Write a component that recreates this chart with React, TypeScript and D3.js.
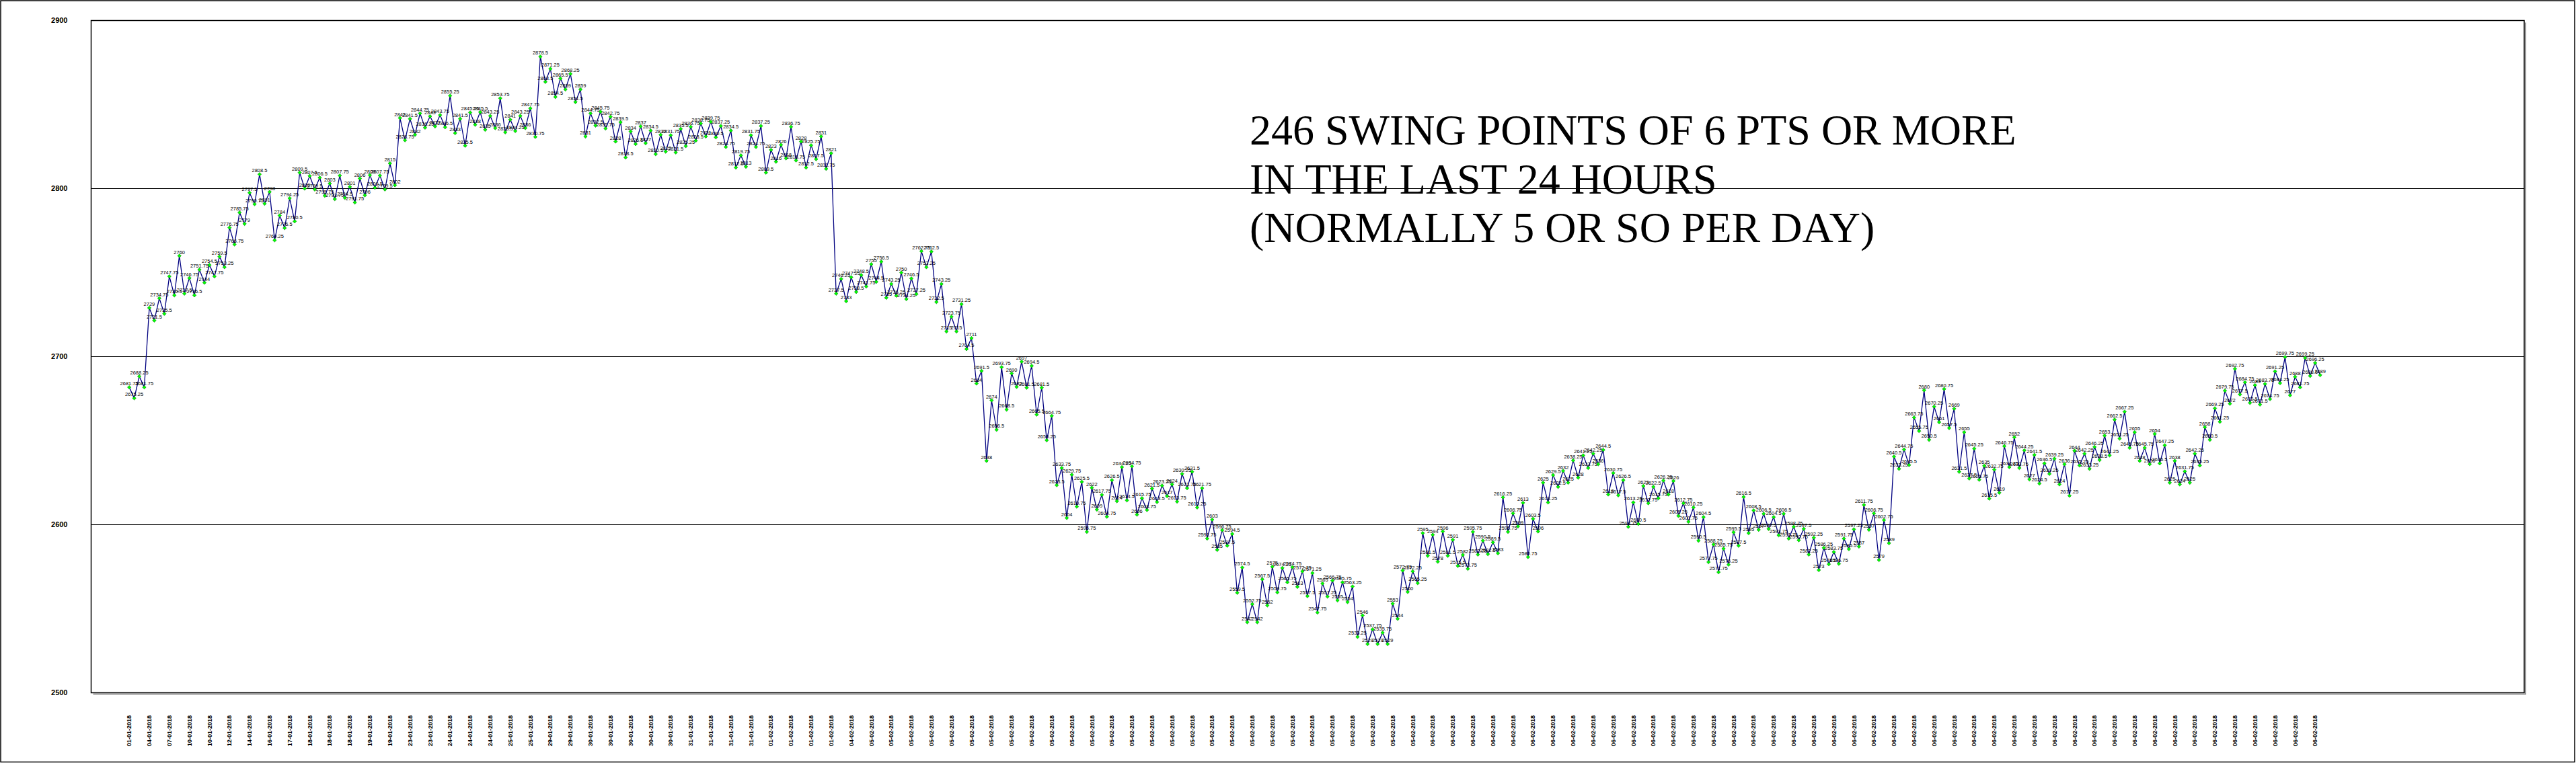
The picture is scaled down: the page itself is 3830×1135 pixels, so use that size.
import React from 'react';
import * as d3 from 'd3';

const WIDTH = 3830;
const HEIGHT = 1135;

// swing points read left to right off the chart, in blocks
const swingsEarlyJan = [
  2681.75, 2675.25, 2688.25, 2681.75, 2729, 2721.5, 2734.75, 2725.5, 2747.75, 2736.5,
  2760, 2737.5, 2746.75, 2736.5, 2751.75, 2744, 2754.5, 2747.75, 2759.5, 2753.25,
  2776.75, 2766.75, 2785.75, 2779, 2797.5, 2790.75, 2808.5, 2791, 2798, 2769.25,
  2784, 2776.5, 2794.25, 2780.5, 2809.5, 2800, 2807.5, 2799.5, 2806.5, 2795.75,
  2803, 2793.75, 2807.75, 2794.5, 2801, 2791.75, 2806, 2796, 2808, 2800.5,
  2807.75, 2799.5, 2815, 2802,
];
const swingsLateJan = [
  2842, 2828.75, 2841.5, 2832, 2844.75, 2836.25, 2843, 2837, 2843.75, 2836.5,
  2855.25, 2833, 2841.5, 2825.5, 2845.25, 2838, 2845.5, 2835, 2843.25, 2836,
  2853.75, 2833.5, 2841, 2834.25, 2843.25, 2836, 2847.75, 2830.75, 2878.5, 2863.5,
  2871.25, 2854.5, 2865.5, 2859, 2868.25, 2851.5, 2859, 2831, 2844.75, 2837.5,
  2845.75, 2835.75, 2842.75, 2828, 2839.5, 2818.5, 2834, 2826.5, 2837, 2827,
  2834.5, 2820.5, 2832, 2822, 2831.75, 2821.5, 2835.5, 2825.25, 2836.75, 2828.5,
  2838.75, 2831, 2839.75, 2830.5, 2837.25, 2824.75, 2834.5, 2812.5, 2819.75, 2813,
  2831.75, 2824.75, 2837.25, 2809.5, 2823,
];
const swingsEarlyFeb = [
  2816, 2826, 2818, 2836.75, 2816.75, 2828, 2812.5, 2825.75, 2817.5, 2831,
  2811.75, 2821, 2737.5, 2746.25, 2733, 2747.25, 2738.5, 2748.5, 2741.75, 2755,
  2744.5, 2756.5, 2735, 2743.25, 2736.25, 2750, 2734.25, 2746.5, 2737.25, 2762.75,
  2753.25, 2762.5, 2732.5, 2743.25, 2715, 2723.75, 2715, 2731.25, 2704.5, 2711,
  2684, 2691.5, 2638, 2674, 2656.5, 2693.75, 2668.5, 2690, 2682, 2697,
  2681.5, 2694.5, 2665.5, 2681.5, 2650.25,
];
const swingsFeb5 = [
  2664.75, 2623.5, 2633.75, 2604, 2629.75, 2610.75, 2625.5, 2595.75, 2622, 2609,
  2617.75, 2604.75, 2626.5, 2614, 2634.25, 2614.5, 2634.75, 2606, 2615.75, 2608.75,
  2621.5, 2613.5, 2623.25, 2617, 2624, 2613.75, 2630.25, 2621.75, 2631.5, 2610.25,
  2621.75, 2591.75, 2603, 2585, 2596.75, 2587.5, 2594.5, 2559.5, 2574.5, 2542,
  2552.75, 2542, 2567.5, 2552, 2575, 2559.75, 2574.25, 2565.75, 2574.75, 2563,
  2572.25, 2557.5, 2571.25, 2547.75, 2565, 2557.25, 2566.75, 2555, 2565.75, 2554,
  2563.25, 2533.25, 2546, 2529, 2537.75, 2529, 2535.75, 2529, 2553, 2544,
  2572.75, 2560, 2572.25, 2565.25, 2595, 2581.5, 2594, 2578, 2596, 2581.5,
  2591, 2575.5, 2582, 2573.75, 2595.75, 2582.25,
];
const swingsFeb6Night = [
  2590.5, 2582.5, 2589.5, 2583, 2616.25, 2595.75, 2606.75, 2599, 2613, 2580.75,
  2603.5, 2596, 2625, 2613.25, 2629.5, 2622.5, 2632, 2625, 2638.25, 2628,
  2641.25, 2633.75, 2642.25, 2636, 2644.5, 2618, 2630.75, 2617.5, 2626.5, 2598.75,
  2613.25, 2600.5, 2623, 2612.75, 2622.5, 2615.75, 2626.25, 2618, 2626, 2605.25,
  2612.75, 2601.75, 2610.25, 2590.5, 2604.5, 2577.75, 2588.25, 2571.75, 2585.75, 2576.25,
  2595.5, 2587.5, 2616.5, 2595, 2608.5, 2597, 2606.5, 2597.5, 2604.5, 2593.75,
  2606.5, 2591.75, 2598.75, 2590.75, 2597.5, 2582.25, 2592.25, 2573, 2586.25, 2576.5,
  2583.75, 2576.75, 2591.75, 2585.5, 2597.25, 2587, 2611.75, 2597, 2606.75, 2579,
  2602.75, 2589, 2640.5, 2633.25, 2644.75, 2635.5,
];
const swingsFeb6Day = [
  2663.75, 2655.75, 2680, 2650.5, 2670.25, 2661, 2680.75, 2657.5, 2669, 2631.5,
  2655, 2627.5, 2645.25, 2626.75, 2635, 2615.5, 2632.75, 2619, 2646.75, 2634.25,
  2652, 2633.75, 2644.25, 2627, 2641.5, 2624.5, 2636.5, 2630.25, 2639.25, 2624,
  2636, 2617.25, 2644, 2635.25, 2642.25, 2633.25, 2646.25, 2638.5, 2653, 2641.25,
  2662.5, 2651.25, 2667.25, 2645.75, 2655, 2638, 2645.75, 2636, 2654, 2636.5,
  2647.25, 2625, 2638, 2624, 2631.75, 2625, 2642.25, 2635.25, 2658, 2650.5,
  2669.25, 2661.25, 2679.75, 2672, 2692.75, 2677.5, 2684.75, 2672.5, 2683, 2671.5,
  2683.75, 2674.75, 2691.25, 2684.25, 2699.75, 2677, 2688, 2681.75, 2699.25, 2688.5,
  2696.25, 2689,
];

const swings = [
  ...swingsEarlyJan, ...swingsLateJan, ...swingsEarlyFeb,
  ...swingsFeb5, ...swingsFeb6Night, ...swingsFeb6Day,
];

// one date label every 4th point
const TICK_EVERY = 4;
const tickDates = [
  '01-01-2018', '04-01-2018', '07-01-2018', '10-01-2018', '10-01-2018', '12-01-2018', '14-01-2018', '16-01-2018',
  '17-01-2018', '18-01-2018', '18-01-2018', '18-01-2018', '19-01-2018', '19-01-2018', '23-01-2018', '23-01-2018',
  '24-01-2018', '24-01-2018', '24-01-2018', '25-01-2018', '25-01-2018', '29-01-2018', '29-01-2018', '30-01-2018',
  '30-01-2018', '30-01-2018', '30-01-2018', '30-01-2018', '31-01-2018', '31-01-2018', '31-01-2018', '31-01-2018',
  '01-02-2018', '01-02-2018', '01-02-2018', '01-02-2018', '04-02-2018',
  '05-02-2018', '05-02-2018', '05-02-2018', '05-02-2018', '05-02-2018', '05-02-2018', '05-02-2018',
  '05-02-2018', '05-02-2018', '05-02-2018', '05-02-2018', '05-02-2018', '05-02-2018', '05-02-2018',
  '05-02-2018', '05-02-2018', '05-02-2018', '05-02-2018', '05-02-2018', '05-02-2018', '05-02-2018',
  '05-02-2018', '05-02-2018', '05-02-2018', '05-02-2018', '05-02-2018', '05-02-2018', '05-02-2018',
  '06-02-2018', '06-02-2018', '06-02-2018', '06-02-2018', '06-02-2018', '06-02-2018', '06-02-2018',
  '06-02-2018', '06-02-2018', '06-02-2018', '06-02-2018', '06-02-2018', '06-02-2018', '06-02-2018',
  '06-02-2018', '06-02-2018', '06-02-2018', '06-02-2018', '06-02-2018', '06-02-2018', '06-02-2018',
  '06-02-2018', '06-02-2018', '06-02-2018', '06-02-2018', '06-02-2018', '06-02-2018', '06-02-2018',
  '06-02-2018', '06-02-2018', '06-02-2018', '06-02-2018', '06-02-2018', '06-02-2018', '06-02-2018',
  '06-02-2018', '06-02-2018', '06-02-2018', '06-02-2018', '06-02-2018', '06-02-2018', '06-02-2018',
  '06-02-2018', '06-02-2018', '06-02-2018',
];

const yTicks = [2500, 2600, 2700, 2800, 2900];
const gridValues = [2600, 2700, 2800];

const titleLines = [
  '246 SWING POINTS OF 6 PTS OR MORE',
  'IN THE LAST 24 HOURS',
  '(NORMALLY 5 OR SO PER DAY)',
];

const plot = { left: 135.5, top: 30.5, right: 3753, bottom: 1030.5 };
// the category axis has empty slots before the first point and after the last one
const LEAD_SLOTS = 7.6;
const TRAIL_SLOTS = 40.7;

const sans = 'Arial, "Liberation Sans", sans-serif';
const serif = '"Times New Roman", "Liberation Serif", serif';

export default function App() {
  const x = d3.scaleLinear()
    .domain([-LEAD_SLOTS, swings.length - 1 + TRAIL_SLOTS])
    .range([plot.left, plot.right]);
  const y = d3.scaleLinear()
    .domain([yTicks[0], yTicks[yTicks.length - 1]])
    .range([plot.bottom, plot.top]);

  const line = d3.line<number>()
    .x((_, i) => x(i))
    .y(d => y(d));

  const r = 2.7;
  const diamond = `M0,${-r}L${r},0L0,${r}L${-r},0Z`;

  return (
    <>
      <style>{'body{margin:0}'}</style>
      <svg width={WIDTH} height={HEIGHT} style={{ display: 'block', background: '#fff' }}>
        <rect x={1} y={1} width={WIDTH - 3} height={HEIGHT - 2.5} fill="#fff" stroke="#000" strokeWidth={1.5} />

        {/* plot area with its shadow */}
        <path
          d={`M${plot.left + 3},${plot.bottom + 2}H${plot.right + 2}V${plot.top + 3}`}
          fill="none" stroke="#9a9a9a" strokeWidth={2}
        />
        <rect
          x={plot.left} y={plot.top}
          width={plot.right - plot.left} height={plot.bottom - plot.top}
          fill="#fff" stroke="#000" strokeWidth={1.5}
        />

        {gridValues.map(v => (
          <line key={v} x1={plot.left} x2={plot.right} y1={y(v)} y2={y(v)} stroke="#000" strokeWidth={1.2} />
        ))}

        {yTicks.map(v => (
          <text
            key={v} x={100.5} y={y(v)} dy="0.35em" textAnchor="end"
            fontFamily={sans} fontSize={11} fontWeight="bold" fill="#000"
          >
            {v}
          </text>
        ))}

        {tickDates.map((d, k) => {
          const tx = x(k * TICK_EVERY);
          return (
            <text
              key={k} transform={`translate(${tx},1110) rotate(-90)`} dy="0.35em"
              fontFamily={sans} fontSize={9} fontWeight="bold" fill="#000"
            >
              {d}
            </text>
          );
        })}

        <path d={line(swings) ?? ''} fill="none" stroke="#000080" strokeWidth={1.3} />

        {swings.map((v, i) => (
          <path
            key={i} d={diamond} transform={`translate(${x(i)},${y(v)})`}
            fill="#00ff00" stroke="#008000" strokeWidth={0.6}
          />
        ))}

        {swings.map((v, i) => (
          <text
            key={i} x={x(i)} y={y(v) - 3} textAnchor="middle"
            fontFamily={sans} fontSize={7.5} fill="#000"
          >
            {v}
          </text>
        ))}

        {titleLines.map((t, k) => (
          <text key={k} x={1858} y={215 + k * 72.5} fontFamily={serif} fontSize={64} fill="#000">
            {t}
          </text>
        ))}
      </svg>
    </>
  );
}
